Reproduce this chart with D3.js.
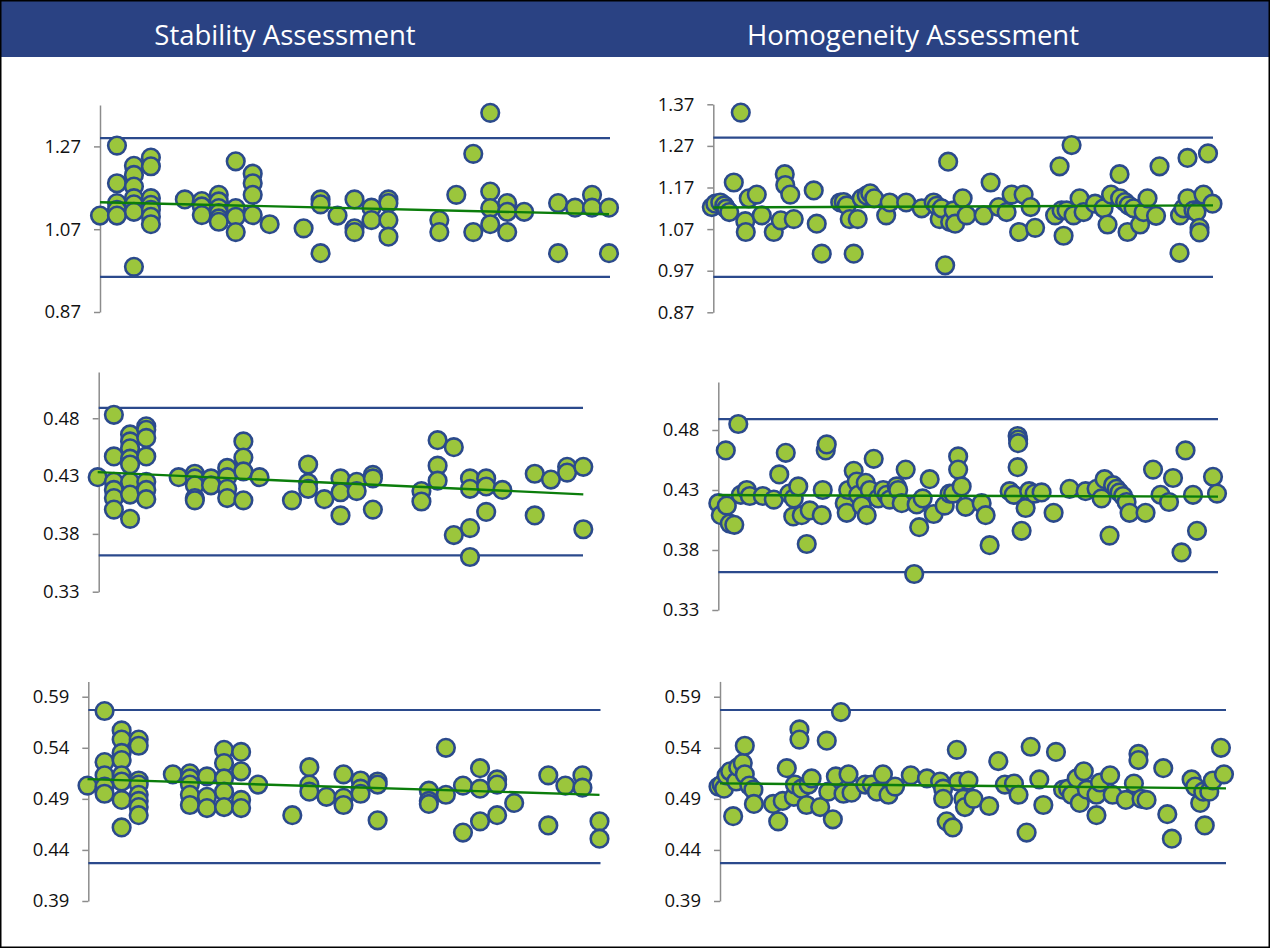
<!DOCTYPE html>
<html><head><meta charset="utf-8">
<script src="https://cdn.jsdelivr.net/npm/d3@7"></script>
<style>body{margin:0;background:#fff}svg{display:block;font-family:'Open Sans',sans-serif}</style>
</head><body><svg id="c" width="1270" height="948"></svg>
<script>
const headers = ["Stability Assessment", "Homogeneity Assessment"];

// Stability: [time point index, value]
const stabTop = [[0,1.103],
 [1,1.272],[1,1.181],[1,1.133],[1,1.117],[1,1.103],
 [2,1.223],[2,1.201],[2,1.173],[2,1.145],[2,1.130],[2,1.112],[2,0.979],
 [3,1.243],[3,1.222],[3,1.145],[3,1.129],[3,1.117],[3,1.100],[3,1.082],
 [5,1.142],[6,1.138],[6,1.125],[6,1.104],
 [7,1.153],[7,1.137],[7,1.121],[7,1.109],[7,1.096],[7,1.088],
 [8,1.234],[8,1.121],[8,1.100],[8,1.063],
 [9,1.204],[9,1.181],[9,1.153],[9,1.104],
 [10,1.082],[12,1.072],[13,1.142],[13,1.130],[13,1.012],[14,1.103],
 [15,1.142],[15,1.072],[15,1.063],[16,1.122],[16,1.092],
 [17,1.142],[17,1.133],[17,1.092],[17,1.052],
 [20,1.092],[20,1.063],[21,1.153],[22,1.252],[22,1.063],
 [23,1.351],[23,1.161],[23,1.121],[23,1.082],
 [24,1.133],[24,1.112],[24,1.063],[25,1.112],
 [27,1.133],[27,1.012],[28,1.122],[29,1.153],[29,1.122],[30,1.122],[30,1.012]];

const stabMid = [[0,0.429],
 [1,0.483],[1,0.447],[1,0.425],[1,0.418],[1,0.411],[1,0.401],
 [2,0.466],[2,0.460],[2,0.454],[2,0.445],[2,0.440],[2,0.425],[2,0.414],[2,0.393],
 [3,0.473],[3,0.470],[3,0.463],[3,0.447],[3,0.425],[3,0.418],[3,0.410],
 [5,0.429],[6,0.432],[6,0.428],[6,0.422],[6,0.411],[6,0.409],
 [7,0.428],[7,0.422],[8,0.437],[8,0.429],[8,0.419],[8,0.411],
 [9,0.460],[9,0.446],[9,0.434],[9,0.409],[10,0.429],
 [12,0.409],[13,0.440],[13,0.424],[13,0.419],[14,0.410],
 [15,0.428],[15,0.416],[15,0.396],[16,0.425],[16,0.417],
 [17,0.431],[17,0.428],[17,0.401],[20,0.417],[20,0.408],
 [21,0.461],[21,0.439],[21,0.426],[22,0.455],[22,0.379],
 [23,0.428],[23,0.419],[23,0.385],[23,0.360],
 [24,0.428],[24,0.421],[24,0.399],[25,0.418],
 [27,0.432],[27,0.396],[28,0.427],[29,0.438],[29,0.433],[30,0.438],[30,0.384]];

const stabBot = [[0,0.503],
 [1,0.576],[1,0.526],[1,0.513],[1,0.502],[1,0.495],
 [2,0.557],[2,0.548],[2,0.535],[2,0.528],[2,0.513],[2,0.507],[2,0.489],[2,0.462],
 [3,0.548],[3,0.542],[3,0.508],[3,0.504],[3,0.494],[3,0.488],[3,0.482],[3,0.474],
 [5,0.514],[6,0.515],[6,0.510],[6,0.504],[6,0.494],[6,0.484],
 [7,0.512],[7,0.492],[7,0.481],
 [8,0.538],[8,0.525],[8,0.510],[8,0.497],[8,0.482],
 [9,0.536],[9,0.517],[9,0.489],[9,0.481],[10,0.504],
 [12,0.474],[13,0.521],[13,0.504],[13,0.497],[14,0.492],
 [15,0.514],[15,0.491],[15,0.484],[16,0.508],[16,0.500],[16,0.495],
 [17,0.507],[17,0.504],[17,0.469],[20,0.498],[20,0.488],[20,0.485],
 [21,0.540],[21,0.494],[22,0.503],[22,0.457],
 [23,0.520],[23,0.500],[23,0.468],[24,0.509],[24,0.504],[24,0.474],
 [25,0.486],[27,0.513],[27,0.464],[28,0.503],[29,0.513],[29,0.501],[30,0.468],[30,0.451]];

// Homogeneity: [sample position 0-100, value]
const homTop = [[-0.3,1.123],[0.4,1.131],[1.4,1.134],[2.2,1.127],[2.6,1.119],[3.2,1.111],[4.1,1.182],[5.5,1.350],
 [6.4,1.089],[6.5,1.063],[7.1,1.144],[8.7,1.153],[9.7,1.103],[12.1,1.063],[13.5,1.091],[14.3,1.202],[14.4,1.176],
 [15.4,1.153],[16.1,1.094],[20.1,1.163],[20.7,1.083],[21.7,1.011],[25.4,1.134],[26.1,1.135],[26.7,1.127],[27.3,1.094],
 [28.1,1.011],[28.9,1.094],[29.7,1.144],[30.7,1.151],[31.4,1.156],[32.2,1.144],[34.6,1.103],[35.3,1.134],[38.6,1.134],
 [41.7,1.120],[44.1,1.134],[44.7,1.126],[45.3,1.094],[45.7,1.120],[46.4,0.983],[47.0,1.232],[47.4,1.087],[48.1,1.115],
 [48.4,1.083],[49.9,1.144],[50.7,1.103],[54.1,1.103],[55.5,1.182],[57.1,1.123],[58.7,1.111],[59.7,1.153],[61.2,1.063],
 [62.1,1.153],[63.5,1.123],[64.4,1.073],[68.4,1.103],[69.3,1.221],[69.7,1.115],[70.1,1.054],[70.7,1.115],[71.7,1.272],
 [72.1,1.103],[73.3,1.144],[74.1,1.111],[76.4,1.131],[78.1,1.120],[78.9,1.081],[79.6,1.153],[81.3,1.202],[81.4,1.144],
 [82.4,1.135],[82.9,1.063],[83.1,1.127],[84.1,1.120],[85.4,1.081],[86.1,1.111],[86.9,1.144],[88.6,1.102],[89.3,1.221],
 [93.3,1.013],[93.4,1.103],[94.1,1.120],[94.9,1.241],[94.9,1.144],[96.1,1.115],[96.7,1.111],[97.3,1.073],[97.3,1.062],
 [98.1,1.153],[99.0,1.252],[99.9,1.131]];

const homMid = [[0,0.419],[0.5,0.409],[1.5,0.463],[1.7,0.417],[2.3,0.402],[3.2,0.401],[4.0,0.485],[4.5,0.426],[5.7,0.430],
 [6.3,0.425],[8.9,0.425],[11.1,0.422],[12.2,0.443],[13.5,0.461],[14.2,0.427],[15.0,0.408],[15.1,0.423],[16.0,0.433],
 [16.7,0.409],[17.7,0.385],[18.3,0.413],[20.7,0.409],[20.9,0.430],[21.5,0.463],[21.7,0.468],[25.3,0.419],[25.7,0.411],
 [26.0,0.430],[27.1,0.446],[27.7,0.437],[28.0,0.426],[28.7,0.417],[29.5,0.436],[29.7,0.409],[30.3,0.430],[31.1,0.456],
 [32.0,0.423],[33.0,0.430],[33.7,0.426],[34.3,0.422],[35.7,0.433],[36.0,0.430],[36.7,0.419],[37.5,0.447],[39.2,0.360],
 [39.7,0.418],[40.2,0.399],[40.9,0.423],[42.3,0.439],[43.1,0.410],[45.3,0.417],[46.3,0.427],[47.0,0.427],[48.0,0.458],
 [48.0,0.447],[48.7,0.433],[49.5,0.416],[52.7,0.419],[53.5,0.409],[54.3,0.384],[58.3,0.429],[59.1,0.426],[59.9,0.475],
 [60.0,0.472],[60.0,0.469],[59.9,0.449],[60.7,0.396],[61.5,0.415],[62.2,0.429],[63.3,0.427],[64.7,0.428],[67.1,0.411],
 [70.3,0.431],[73.5,0.429],[75.7,0.431],[76.7,0.423],[77.3,0.439],[78.3,0.392],[79.0,0.434],[79.7,0.431],[80.3,0.428],
 [81.0,0.425],[81.7,0.420],[82.3,0.411],[85.5,0.411],[87.0,0.447],[88.5,0.426],[90.2,0.420],[91.0,0.440],[92.7,0.378],
 [93.5,0.463],[95.0,0.426],[95.8,0.396],[99.0,0.441],[99.8,0.427]];

const homBot = [[-0.3,0.502],[0.3,0.504],[0.8,0.500],[1.3,0.513],[2.0,0.517],[2.6,0.473],[3.2,0.507],[3.6,0.521],[4.5,0.525],
 [4.9,0.514],[4.9,0.542],[5.8,0.503],[6.6,0.499],[6.7,0.485],[10.5,0.485],[11.5,0.468],[12.4,0.488],[13.2,0.520],
 [14.6,0.492],[14.8,0.504],[15.7,0.558],[15.7,0.548],[16.1,0.500],[17.1,0.484],[17.5,0.504],[18.1,0.510],[19.8,0.482],
 [21.1,0.547],[21.4,0.497],[22.3,0.470],[22.9,0.512],[23.9,0.575],[24.4,0.495],[25.4,0.514],[26.0,0.496],[28.7,0.504],
 [30.0,0.504],[31.0,0.497],[32.2,0.514],[33.3,0.494],[34.6,0.502],[37.7,0.513],[40.9,0.510],[43.5,0.507],[44.1,0.500],
 [44.1,0.490],[44.8,0.468],[46.8,0.538],[46.0,0.462],[47.1,0.507],[48.1,0.490],[48.4,0.482],[49.1,0.508],[50.1,0.490],
 [53.2,0.483],[55.0,0.527],[56.3,0.504],[58.1,0.505],[59.0,0.494],[60.6,0.457],[61.4,0.541],[63.1,0.509],[63.9,0.484],
 [66.4,0.536],[67.8,0.499],[68.8,0.500],[69.5,0.494],[70.5,0.510],[71.1,0.486],[71.9,0.517],[72.5,0.499],[74.4,0.474],
 [74.4,0.494],[75.1,0.506],[77.1,0.513],[77.6,0.494],[80.2,0.489],[81.8,0.505],[82.7,0.534],[82.7,0.528],[83.3,0.490],
 [84.3,0.489],[87.6,0.520],[88.4,0.475],[89.3,0.451],[93.2,0.509],[93.9,0.502],[94.9,0.486],[95.5,0.497],[95.8,0.464],
 [96.7,0.497],[97.4,0.508],[99.0,0.540],[99.6,0.514]];

// Tick labels
const ticksStabTop = [0.87, 1.07, 1.27];
const ticksHomTop = [0.87, 0.97, 1.07, 1.17, 1.27, 1.37];
const ticksMid = [0.33, 0.38, 0.43, 0.48];
const ticksBot = [0.39, 0.44, 0.49, 0.54, 0.59];

// Control limits [upper, lower]
const limitsTop = [1.29, 0.955];
const limitsMid = [0.489, 0.3615];
const limitsBot = [0.577, 0.427];

// Trend line values [start, end]
const trendStabTop = [1.135, 1.106];
const trendStabMid = [0.4334, 0.4142];
const trendStabBot = [0.5093, 0.4939];
const trendHomTop = [1.122, 1.127];
const trendHomMid = [0.4258, 0.4245];
const trendHomBot = [0.5052, 0.5003];

const W = 1270, H = 948;
const svg = d3.select("#c");

const panels = [
  {data: stabTop, xd: [0,30], yd: [0.87,1.37], ticks: ticksStabTop, lim: limitsTop, trend: trendStabTop, xr: [100,609], yr: [312,105], ax: 100, lineEnd: 610},
  {data: homTop, xd: [0,100], yd: [0.87,1.37], ticks: ticksHomTop, lim: limitsTop, trend: trendHomTop, xr: [713.3,1213], yr: [312.3,104.3], ax: 713.3, lineEnd: 1213},
  {data: stabMid, xd: [0,30], yd: [0.33,0.52], ticks: ticksMid, lim: limitsMid, trend: trendStabMid, xr: [97.7,583.3], yr: [591.7,372], ax: 98.7, lineEnd: 583},
  {data: homMid, xd: [0,100], yd: [0.33,0.52], ticks: ticksMid, lim: limitsMid, trend: trendHomMid, xr: [718.3,1218], yr: [610,382], ax: 718.3, lineEnd: 1218},
  {data: stabBot, xd: [0,30], yd: [0.39,0.605], ticks: ticksBot, lim: limitsBot, trend: trendStabBot, xr: [87.5,599.5], yr: [901,681.4], ax: 88.3, lineEnd: 600.5},
  {data: homBot, xd: [0,100], yd: [0.39,0.605], ticks: ticksBot, lim: limitsBot, trend: trendHomBot, xr: [720,1226], yr: [901,681.4], ax: 720, lineEnd: 1226}
];

// Header bar
svg.append("rect").attr("x",0).attr("y",0).attr("width",W).attr("height",57).attr("fill","#2a4283");
const hx = d3.scalePoint().domain(headers).range([285, 913]);
svg.selectAll("text.hdr").data(headers).join("text").attr("class","hdr")
  .attr("x", d => hx(d)).attr("y", 45).attr("text-anchor","middle")
  .attr("fill","#fff").attr("font-size", 27.5).text(d => d);

panels.forEach(p => {
  const x = d3.scaleLinear().domain(p.xd).range(p.xr);
  const y = d3.scaleLinear().domain(p.yd).range(p.yr);
  const g = svg.append("g");

  const axis = d3.axisLeft(y).tickValues(p.ticks).tickSize(6).tickSizeOuter(0).tickPadding(13).tickFormat(d3.format(".2f"));
  const ag = g.append("g").attr("transform", `translate(${p.ax},0)`).call(axis);
  ag.select(".domain").attr("stroke","#8c8c8c").attr("stroke-width",1.5);
  ag.selectAll(".tick line").attr("stroke","#8c8c8c").attr("stroke-width",1.5);
  ag.selectAll(".tick text").attr("fill","#111").attr("font-size",18.5).attr("font-family","'Open Sans',sans-serif");

  // limit lines
  g.selectAll("line.lim").data(p.lim).join("line").attr("class","lim")
    .attr("x1", p.ax).attr("x2", p.lineEnd)
    .attr("y1", d => y(d)).attr("y2", d => y(d))
    .attr("stroke","#2b4a8c").attr("stroke-width",2.2);

  // points
  g.selectAll("circle").data(p.data).join("circle")
    .attr("cx", d => x(d[0])).attr("cy", d => y(d[1])).attr("r", 8.8)
    .attr("fill","#9bc63c").attr("stroke","#2b4a8c").attr("stroke-width",2.6);

  // trend
  g.append("line")
    .attr("x1", x(p.xd[0])).attr("x2", x(p.xd[1]))
    .attr("y1", y(p.trend[0])).attr("y2", y(p.trend[1]))
    .attr("stroke","#0b7d0b").attr("stroke-width",2.4);
});

// outer border
svg.append("rect").attr("x",0.75).attr("y",0.75).attr("width",W-1.5).attr("height",H-1.5)
  .attr("fill","none").attr("stroke","#000").attr("stroke-width",1.5);
</script></body></html>
